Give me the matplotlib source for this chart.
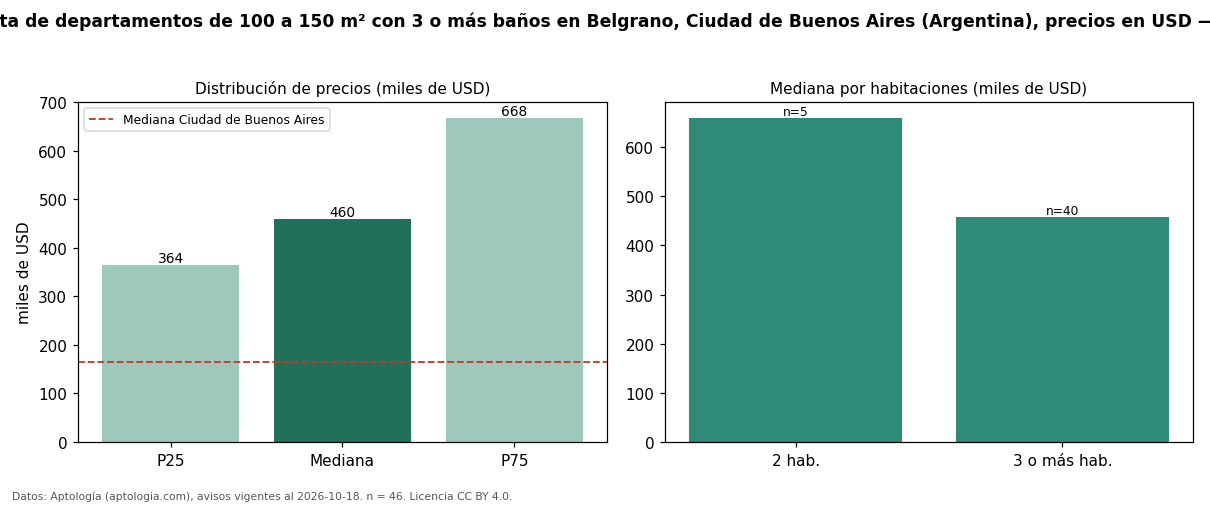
import matplotlib.pyplot as plt

plt.rcParams['font.family'] = ['DejaVu Sans']

# Datos
percentiles = ['P25', 'Mediana', 'P75']
precios = [364, 460, 668]
mediana_ciudad = 165

habitaciones = ['2 hab.', '3 o más hab.']
mediana_hab = [659, 458]
n_hab = [5, 40]

titulo = ('Venta de departamentos de 100 a 150 m² con 3 o más baños en Belgrano, '
          'Ciudad de Buenos Aires (Argentina), precios en USD — 2026')
fuente = 'Datos: Aptología (aptologia.com), avisos vigentes al 2026-10-18. n = 46. Licencia CC BY 4.0.'

fig = plt.figure(figsize=(11, 4.6), dpi=110)
ax1 = fig.add_axes([78 / 1210, 63 / 506, 529 / 1210, 340 / 506])
ax2 = fig.add_axes([665 / 1210, 63 / 506, 528 / 1210, 340 / 506])

# --- Distribución de precios ---
colores = ['#9ec8bb', '#21705c', '#9ec8bb']
barras = ax1.bar(percentiles, precios, color=colores, width=0.8)
for b, v in zip(barras, precios):
    ax1.text(b.get_x() + b.get_width() / 2, v, f'{v}', ha='center', va='bottom', fontsize=9)
ax1.axhline(mediana_ciudad, color='#c0392b', linestyle='--', linewidth=1.2,
            label='Mediana Ciudad de Buenos Aires')
ax1.set_ylim(0, 700)
ax1.set_ylabel('miles de USD', fontsize=10)
ax1.set_title('Distribución de precios (miles de USD)', fontsize=10)
ax1.legend(loc='upper left', fontsize=8)
ax1.tick_params(labelsize=10)

# --- Mediana por habitaciones ---
barras2 = ax2.bar(habitaciones, mediana_hab, color='#2e8b77', width=0.8)
for b, v, n in zip(barras2, mediana_hab, n_hab):
    ax2.text(b.get_x() + b.get_width() / 2, v, f'n={n}', ha='center', va='bottom', fontsize=8)
ax2.set_ylim(0, max(mediana_hab) * 1.05)
ax2.set_title('Mediana por habitaciones (miles de USD)', fontsize=10)
ax2.tick_params(labelsize=10)

fig.suptitle(titulo, fontsize=11.2, fontweight='bold', x=0.509, y=0.975)
fig.text(12 / 1210, 9 / 506, fuente, fontsize=7, color='#555555', ha='left', va='center')

fig.savefig('out.png', dpi=110)
